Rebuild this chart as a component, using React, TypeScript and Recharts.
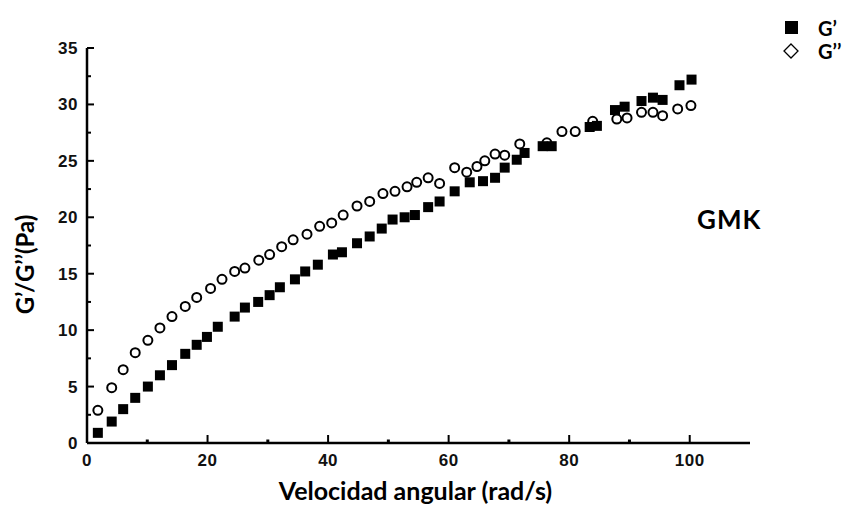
import React from 'react';
import { ScatterChart, Scatter, XAxis, YAxis, Legend } from 'recharts';

// G' (storage modulus) – filled squares
const gPrimeX = [1.8, 4.1, 6.0, 8.0, 10.1, 12.1, 14.1, 16.3, 18.2, 19.9, 21.7, 24.5, 26.2, 28.4, 30.3, 32.0, 34.5, 36.2, 38.3, 40.8, 42.3, 44.8, 46.9, 48.9, 50.7, 52.7, 54.4, 56.6, 58.5, 61.0, 63.5, 65.7, 67.7, 69.3, 71.3, 72.6, 75.6, 77.1, 83.4, 84.6, 87.6, 89.2, 92.0, 93.9, 95.5, 98.3, 100.3];
const gPrimeY = [0.9, 1.9, 3.0, 4.0, 5.0, 6.0, 6.9, 7.9, 8.7, 9.4, 10.3, 11.2, 12.0, 12.5, 13.1, 13.8, 14.5, 15.2, 15.8, 16.7, 16.9, 17.7, 18.3, 19.0, 19.8, 20.0, 20.2, 20.9, 21.4, 22.3, 23.1, 23.2, 23.5, 24.4, 25.1, 25.7, 26.3, 26.3, 28.0, 28.1, 29.5, 29.8, 30.3, 30.6, 30.4, 31.7, 32.2];

// G'' (loss modulus) – open markers
const gDoubleX = [1.8, 4.1, 6.0, 8.0, 10.1, 12.1, 14.1, 16.3, 18.2, 20.5, 22.4, 24.5, 26.2, 28.5, 30.3, 32.3, 34.2, 36.5, 38.6, 40.6, 42.5, 44.8, 46.9, 49.1, 51.1, 53.1, 54.7, 56.6, 58.5, 61.0, 63.0, 64.7, 66.0, 67.7, 69.3, 71.8, 76.3, 78.8, 81.0, 83.9, 87.9, 89.6, 92.0, 93.9, 95.5, 98.0, 100.2];
const gDoubleY = [2.9, 4.9, 6.5, 8.0, 9.1, 10.2, 11.2, 12.1, 12.9, 13.7, 14.5, 15.2, 15.5, 16.2, 16.7, 17.4, 18.0, 18.5, 19.2, 19.5, 20.2, 21.0, 21.4, 22.1, 22.3, 22.7, 23.1, 23.5, 23.0, 24.4, 24.0, 24.5, 25.0, 25.6, 25.5, 26.5, 26.6, 27.6, 27.6, 28.5, 28.7, 28.8, 29.3, 29.3, 29.0, 29.6, 29.9];

const xTicks = [0, 10, 20, 30, 40, 50, 60, 70, 80, 90, 100];
const yTicks = [0, 2.5, 5, 7.5, 10, 12.5, 15, 17.5, 20, 22.5, 25, 27.5, 30, 32.5, 35];

const seriesNames = ['G\u2019', 'G\u2019\u2019'];
const xLabel = 'Velocidad angular (rad/s)';
const yLabel = 'G\u2019/G\u2019\u2019(Pa)';
const sampleLabel = 'GMK';

const gPrimeData = gPrimeX.map((x, i) => ({ x, y: gPrimeY[i] }));
const gDoubleData = gDoubleX.map((x, i) => ({ x, y: gDoubleY[i] }));

const FONT = 'Lato, "Open Sans", sans-serif';
const TICK_FONT = '"Liberation Sans", Arial, sans-serif';

const XTick = (props: any) => {
  const { x, y, payload } = props;
  const v = payload.value;
  const major = v % 20 === 0;
  return (
    <g>
      {major ? (
        <line x1={x} y1={y} x2={x} y2={y - 8} stroke="#000" strokeWidth={2} />
      ) : (
        <line x1={x} y1={y} x2={x} y2={y - 3.5} stroke="#000" strokeWidth={3} />
      )}
      {major && (
        <text x={x} y={y + 23} textAnchor="middle" fontFamily={TICK_FONT} fontWeight="bold" fontSize={17} fill="#111" letterSpacing={0.5}>
          {v}
        </text>
      )}
    </g>
  );
};

const YTick = (props: any) => {
  const { x, y, payload } = props;
  const v = payload.value;
  const major = v % 5 === 0;
  return (
    <g>
      <line x1={x} y1={y} x2={x + (major ? 7 : 4)} y2={y} stroke="#000" strokeWidth={2} />
      {major && (
        <text x={x - 9} y={y + 6} textAnchor="end" fontFamily={TICK_FONT} fontWeight="bold" fontSize={17} fill="#111" letterSpacing={0.5}>
          {v}
        </text>
      )}
    </g>
  );
};

const XLabel = (props: any) => {
  const vb = props.viewBox;
  return (
    <text x={vb.x + vb.width / 2 - 3} y={vb.y + vb.height - 8} textAnchor="middle" fontFamily={FONT} fontWeight="bold" fontSize={25} fill="#000">
      {xLabel}
    </text>
  );
};

const YLabel = (props: any) => {
  const vb = props.viewBox;
  const cx = vb.x + 34;
  const cy = vb.y + vb.height / 2 + 19;
  return (
    <text x={cx} y={cy} transform={`rotate(-90, ${cx}, ${cy})`} textAnchor="middle" fontFamily={FONT} fontWeight="bold" fontSize={24} fill="#000">
      {yLabel}
    </text>
  );
};

const SquareShape = (props: any) => {
  const { cx, cy } = props;
  return <rect x={cx - 5} y={cy - 5} width={10} height={10} fill="#000" />;
};

const OpenShape = (props: any) => {
  const { cx, cy } = props;
  return <circle cx={cx} cy={cy} r={4.5} fill="#fff" stroke="#000" strokeWidth={2} />;
};

const LegendContent = () => (
  <svg width={80} height={50} style={{ display: 'block' }}>
    <rect x={3} y={4} width={13} height={13} fill="#000" />
    <text x={36} y={19} fontFamily={FONT} fontWeight="bold" fontSize={20} fill="#000">{seriesNames[0]}</text>
    <path d="M 9 27 L 16 34 L 9 41 L 2 34 Z" fill="none" stroke="#000" strokeWidth={1.3} />
    <text x={36} y={42} fontFamily={FONT} fontWeight="bold" fontSize={20} fill="#000">{seriesNames[1]}</text>
  </svg>
);

export default function App() {
  return (
    <div style={{ position: 'absolute', left: 0, top: 0, width: 852, height: 508, background: '#fff' }}>
      <ScatterChart width={852} height={508} margin={{ top: 48, right: 102, bottom: 0, left: 0 }}>
        <XAxis
          type="number"
          dataKey="x"
          domain={[0, 110]}
          ticks={xTicks}
          interval={0}
          height={65}
          tickSize={0}
          tickMargin={0}
          tickLine={false}
          tick={<XTick />}
          axisLine={{ stroke: '#000', strokeWidth: 2.5 }}
          allowDataOverflow
          label={<XLabel />}
        />
        <YAxis
          type="number"
          dataKey="y"
          domain={[0, 35]}
          ticks={yTicks}
          interval={0}
          width={87}
          tickSize={0}
          tickMargin={0}
          tickLine={false}
          tick={<YTick />}
          axisLine={{ stroke: '#000', strokeWidth: 2.5 }}
          allowDataOverflow
          label={<YLabel />}
        />
        <Legend
          layout="vertical"
          align="center"
          verticalAlign="middle"
          content={<LegendContent />}
          wrapperStyle={{ position: 'absolute', left: 782, top: 17, width: 80 }}
        />
        <Scatter name={seriesNames[1]} data={gDoubleData} shape={<OpenShape />} isAnimationActive={false} />
        <Scatter name={seriesNames[0]} data={gPrimeData} shape={<SquareShape />} isAnimationActive={false} />
      </ScatterChart>
      <div style={{ position: 'absolute', left: 697, top: 203, fontFamily: FONT, fontWeight: 'bold', fontSize: 26, color: '#000', letterSpacing: 1 }}>
        {sampleLabel}
      </div>
    </div>
  );
}
